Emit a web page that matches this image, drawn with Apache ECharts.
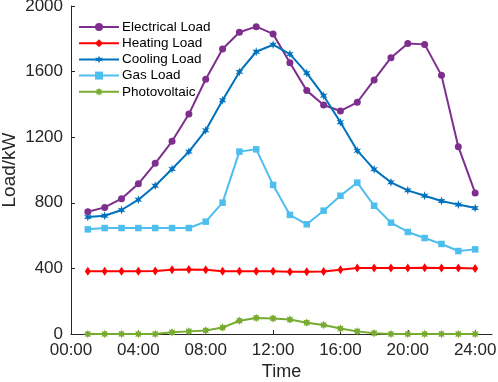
<!DOCTYPE html>
<html>
<head>
<meta charset="utf-8">
<script src="https://cdn.jsdelivr.net/npm/echarts@6/dist/echarts.min.js"></script>
<style>
  html, body { margin: 0; padding: 0; background: #fff; }
  #chart { width: 498px; height: 382px; }
</style>
</head>
<body>
<div id="chart"></div>
<script>
// ---- data ----
const hours = [1, 2, 3, 4, 5, 6, 7, 8, 9, 10, 11, 12, 13, 14, 15, 16, 17, 18, 19, 20, 21, 22, 23, 24];
const electricalLoad = [746, 772, 825, 916, 1041, 1175, 1341, 1553, 1738, 1840, 1874, 1830, 1654, 1484, 1396, 1360, 1413, 1549, 1685, 1772, 1766, 1577, 1142, 860];
const heatingLoad = [382, 382, 382, 382, 384, 392, 394, 392, 382, 382, 382, 382, 380, 380, 381, 392, 402, 402, 402, 402, 404, 402, 402, 400];
const coolingLoad = [713, 721, 756, 819, 904, 1006, 1112, 1242, 1425, 1598, 1721, 1764, 1707, 1591, 1453, 1291, 1118, 1004, 925, 876, 843, 811, 789, 768];
const gasLoad = [638, 646, 646, 646, 646, 646, 646, 685, 801, 1112, 1126, 909, 726, 669, 752, 843, 923, 782, 679, 622, 585, 549, 506, 516];
const photovoltaic = [0, 0, 0, 0, 0, 10, 16, 22, 39, 81, 98, 95, 88, 69, 55, 33, 16, 5, 0, 0, 0, 0, 0, 0];
const seriesNames = ['Electrical Load', 'Heating Load', 'Cooling Load', 'Gas Load', 'Photovoltaic'];
const xTickValues = [0, 4, 8, 12, 16, 20, 24];
const yTickValues = [0, 400, 800, 1200, 1600, 2000];

// ---- marker shapes ----
function starPath(n, rOut, rIn) {
  let d = '';
  for (let k = 0; k < 2 * n; k++) {
    const a = Math.PI * k / n - Math.PI / 2;
    const r = k % 2 === 0 ? rOut : rIn;
    d += (k === 0 ? 'M' : 'L') + (r * Math.cos(a)).toFixed(2) + ',' + (r * Math.sin(a)).toFixed(2) + ' ';
  }
  return 'path://' + d + 'Z';
}
const hexStar = starPath(6, 10, 4.2);
const octStar = starPath(8, 10, 6);

const pair = arr => hours.map((h, i) => [h, arr[i]]);
const FONT = '"Liberation Sans", Arial, Helvetica, sans-serif';
const AXC = '#262626';

const chart = echarts.init(document.getElementById('chart'), null, { renderer: 'canvas' });
const mk = (name, data, color, symbol, size) => ({
  name, type: 'line', data: pair(data),
  symbol, symbolSize: size, symbolKeepAspect: true,
  lineStyle: { color, width: 2 },
  itemStyle: { color, borderWidth: 0 },
  emphasis: { disabled: true },
  animation: false
});

chart.setOption({
  backgroundColor: '#fff',
  animation: false,
  grid: { left: 71, right: 6, top: 6, bottom: 48, containLabel: false, outerBoundsMode: 'none' },
  legend: {
    orient: 'vertical', left: 78, top: 20, padding: 0,
    itemWidth: 40, itemHeight: 10, itemGap: 2.2,
    textStyle: { fontFamily: FONT, fontSize: 13.5, lineHeight: 14, color: '#000', padding: [0, 0, 0, -2] },
    data: seriesNames
  },
  xAxis: {
    type: 'value', min: 0, max: 25,
    name: 'Time', nameLocation: 'middle', nameGap: 29.5, nameMoveOverlap: false,
    nameTextStyle: { fontFamily: FONT, fontSize: 18, color: AXC },
    axisLine: { show: true, lineStyle: { color: AXC, width: 1 } },
    axisTick: { show: true, inside: true, length: 4, customValues: xTickValues, lineStyle: { color: AXC } },
    axisLabel: {
      customValues: xTickValues, margin: 8,
      fontFamily: FONT, fontSize: 17, color: AXC,
      formatter: v => (v < 10 ? '0' : '') + v + ':00'
    },
    splitLine: { show: false }
  },
  yAxis: {
    type: 'value', min: 0, max: 2000, interval: 400,
    name: 'Load/kW', nameLocation: 'middle', nameGap: 52, nameRotate: 90, nameMoveOverlap: false,
    nameTextStyle: { fontFamily: FONT, fontSize: 19, color: AXC },
    axisLine: { show: true, lineStyle: { color: AXC, width: 1 } },
    axisTick: { show: true, inside: true, length: 4, lineStyle: { color: AXC } },
    axisLabel: { margin: 8, fontFamily: FONT, fontSize: 17, color: AXC, formatter: v => String(v) },
    splitLine: { show: false }
  },
  series: [
    mk(seriesNames[0], electricalLoad, '#7E2F8E', 'circle', 7),
    mk(seriesNames[1], heatingLoad, '#FF0000', 'diamond', [6, 9]),
    mk(seriesNames[2], coolingLoad, '#0072BD', hexStar, 9),
    mk(seriesNames[3], gasLoad, '#4DBEEE', 'rect', 6.5),
    mk(seriesNames[4], photovoltaic, '#77AC30', octStar, 8.5)
  ]
});
</script>
</body>
</html>
